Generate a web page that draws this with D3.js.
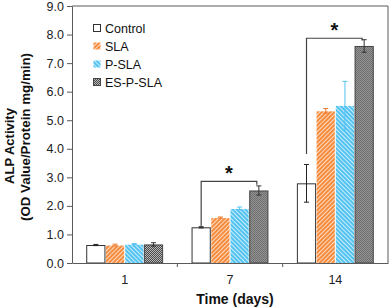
<!DOCTYPE html>
<html>
<head>
<meta charset="utf-8">
<script src="https://cdn.jsdelivr.net/npm/d3@7"></script>
<style>
  html, body { margin: 0; padding: 0; background: #fff; }
  svg { display: block; font-family: 'Liberation Sans', Arial, sans-serif; }
</style>
</head>
<body>
<div id="chart"></div>
<script>
const DAYS = ['1', '7', '14']
const SERIES = ['Control', 'SLA', 'P-SLA', 'ES-P-SLA']
const MEANS = [
  [0.63, 0.63, 0.66, 0.65],
  [1.25, 1.59, 1.91, 2.54],
  [2.79, 5.33, 5.52, 7.60],
]
const ERRS = [
  [0.02, 0.03, 0.02, 0.06],
  [0.02, 0.02, 0.05, 0.16],
  [0.66, 0.08, 0.84, 0.22],
]
const Y_TICKS = [0, 1, 2, 3, 4, 5, 6, 7, 8, 9]
// significance brackets: day, bracket level, left leg bottom, right leg bottom
const SIG_DAYS = ['7', '14']
const SIG_LEVEL = [2.86, 7.87]
const SIG_LEFT = [1.30, 3.82]
const SIG_RIGHT = [2.74, 7.79]

const W = 392, H = 308
const M = { left: 72, right: 388, top: 6, bottom: 263 }
const AXIS = '#5a5a5a'

const svg = d3.select('#chart').append('svg')
  .attr('width', W).attr('height', H)

// patterns
const defs = svg.append('defs')
function hatch(id, color, dir) {
  const p = defs.append('pattern')
    .attr('id', id).attr('patternUnits', 'userSpaceOnUse')
    .attr('width', 3).attr('height', 3)
    .attr('patternTransform', `rotate(${dir})`)
  p.append('rect').attr('width', 3).attr('height', 3).attr('fill', color)
  p.append('rect').attr('width', 1).attr('height', 3).attr('fill', '#fff').attr('opacity', 0.7)
}
hatch('pat-sla', '#f68b3b', 45)
hatch('pat-psla', '#52c3f1', -45)
const chk = defs.append('pattern')
  .attr('id', 'pat-es').attr('patternUnits', 'userSpaceOnUse')
  .attr('width', 2).attr('height', 2)
chk.append('rect').attr('width', 2).attr('height', 2).attr('fill', '#4a4a4a')
chk.append('rect').attr('width', 1).attr('height', 1).attr('fill', '#b8b8b8')
chk.append('rect').attr('x', 1).attr('y', 1).attr('width', 1).attr('height', 1).attr('fill', '#b8b8b8')

const FILLS = ['#fff', 'url(#pat-sla)', 'url(#pat-psla)', 'url(#pat-es)']
const STROKES = ['#333', 'none', 'none', '#444']
const ERR_COLORS = ['#222', '#f0782a', '#52c3f1', '#333']

const x = d3.scaleBand().domain(DAYS).range([M.left, M.right]).padding(0)
const xs = d3.scaleBand().domain(SERIES).range([0, x.bandwidth()])
  .paddingInner(0).paddingOuter(0.74)
const y = d3.scaleLinear().domain([0, 9]).range([M.bottom, M.top])

// frame
svg.append('line').attr('x1', M.left).attr('x2', M.right)
  .attr('y1', M.top).attr('y2', M.top).attr('stroke', AXIS)
svg.append('line').attr('x1', M.right).attr('x2', M.right)
  .attr('y1', M.top).attr('y2', M.bottom).attr('stroke', AXIS)

// bars
const groups = svg.append('g').selectAll('g')
  .data(DAYS).join('g')
  .attr('transform', d => `translate(${x(d)},0)`)

const rows = (d, i) => SERIES.map((s, j) => ({ s, j, v: MEANS[i][j], e: ERRS[i][j] }))

groups.selectAll('rect')
  .data(rows)
  .join('rect')
  .attr('x', d => xs(d.s) + 0.5)
  .attr('y', d => y(d.v) + 0.5)
  .attr('width', xs.bandwidth() - 1)
  .attr('height', d => y(0) - y(d.v) - 0.5)
  .attr('fill', d => FILLS[d.j])
  .attr('stroke', d => STROKES[d.j])
  .attr('stroke-width', 1)

// error bars
const cx = d => xs(d.s) + xs.bandwidth() / 2
const eb = groups.selectAll('g.err')
  .data(rows)
  .join('g').attr('class', 'err')
  .attr('stroke', d => ERR_COLORS[d.j]).attr('stroke-width', 1)
eb.append('line')
  .attr('x1', cx).attr('x2', cx)
  .attr('y1', d => y(d.v + d.e)).attr('y2', d => y(d.v - d.e))
eb.append('line')
  .attr('x1', d => cx(d) - 2.5).attr('x2', d => cx(d) + 2.5)
  .attr('y1', d => y(d.v + d.e)).attr('y2', d => y(d.v + d.e))
eb.append('line')
  .attr('x1', d => cx(d) - 2.5).attr('x2', d => cx(d) + 2.5)
  .attr('y1', d => y(d.v - d.e)).attr('y2', d => y(d.v - d.e))

// significance brackets
SIG_DAYS.forEach((day, i) => {
  const xl = x(day) + xs(SERIES[0]) + xs.bandwidth() / 2
  const xr = x(day) + xs(SERIES[3]) + xs.bandwidth() / 2 - 2
  svg.append('path')
    .attr('d', `M${xl},${y(SIG_LEFT[i])}V${y(SIG_LEVEL[i])}H${xr}V${y(SIG_RIGHT[i])}`)
    .attr('fill', 'none').attr('stroke', '#444').attr('stroke-width', 1.2)
  svg.append('text')
    .attr('x', (xl + xr) / 2).attr('y', y(SIG_LEVEL[i]) - 1)
    .attr('text-anchor', 'middle')
    .attr('font-size', 20).attr('font-weight', 'bold').attr('fill', '#111')
    .text('*')
})

// axes
const yAxis = svg.append('g').attr('transform', `translate(${M.left},0)`)
  .call(d3.axisLeft(y).tickValues(Y_TICKS).tickFormat(d3.format('.1f')).tickSize(5).tickSizeOuter(0))
yAxis.select('.domain').attr('stroke', AXIS)
yAxis.selectAll('.tick line').attr('stroke', AXIS)
yAxis.selectAll('.tick text').attr('font-size', 12.5).attr('fill', '#222')
  .attr('font-family', "'Liberation Sans', Arial, sans-serif").attr('x', -8)

const xAxis = svg.append('g').attr('transform', `translate(0,${M.bottom})`)
  .call(d3.axisBottom(x).tickSize(0).tickSizeOuter(0))
xAxis.select('.domain').attr('stroke', AXIS)
xAxis.selectAll('.tick text').attr('font-size', 12.5).attr('fill', '#222')
  .attr('font-family', "'Liberation Sans', Arial, sans-serif").attr('dy', '1.4em')
// category separators
svg.append('g').selectAll('line')
  .data(DAYS.slice(1)).join('line')
  .attr('x1', d => x(d)).attr('x2', d => x(d))
  .attr('y1', M.bottom).attr('y2', M.bottom + 4)
  .attr('stroke', AXIS)

// axis titles
svg.append('text')
  .attr('x', (M.left + M.right) / 2 + 5).attr('y', 304)
  .attr('text-anchor', 'middle').attr('font-size', 14).attr('font-weight', 'bold')
  .attr('fill', '#111')
  .text('Time (days)')
svg.append('text')
  .attr('transform', 'translate(14,146) rotate(-90)')
  .attr('text-anchor', 'middle').attr('font-weight', 'bold').attr('fill', '#111')
  .attr('font-size', 13)
  .text('ALP Activity')
svg.append('text')
  .attr('transform', 'translate(30,137) rotate(-90)')
  .attr('text-anchor', 'middle').attr('font-weight', 'bold').attr('fill', '#111')
  .attr('font-size', 13)
  .attr('textLength', 168).attr('lengthAdjust', 'spacingAndGlyphs')
  .text('(OD Value/Protein mg/min)')

// legend
const legend = svg.append('g').attr('transform', 'translate(93,24)')
const li = legend.selectAll('g').data(SERIES).join('g')
  .attr('transform', (d, i) => `translate(0,${i * 18})`)
li.append('rect')
  .attr('x', 0.5).attr('y', 0.5).attr('width', 7).attr('height', 7)
  .attr('fill', (d, i) => FILLS[i])
  .attr('stroke', (d, i) => i === 0 ? '#333' : i === 3 ? '#444' : 'none')
li.append('text')
  .attr('x', 12).attr('y', 4).attr('dy', '0.36em')
  .attr('font-size', 12.5).attr('fill', '#111')
  .text(d => d)
</script>
</body>
</html>
